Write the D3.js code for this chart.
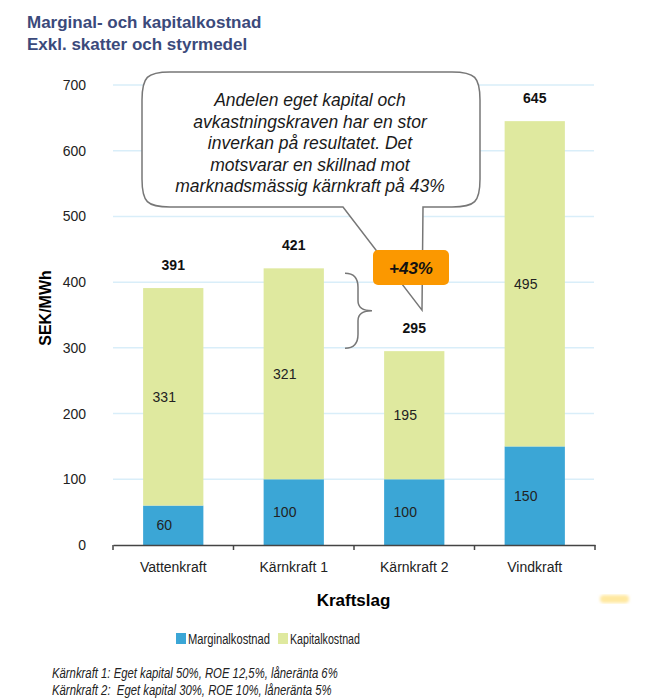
<!DOCTYPE html>
<html>
<head>
<meta charset="utf-8">
<script src="https://cdn.jsdelivr.net/npm/d3@7"></script>
<style>
  body { margin: 0; background: #fff; }
  svg { display: block; font-family: "Liberation Sans", Arial, sans-serif; }
</style>
</head>
<body>
<svg id="chart"></svg>
<script>
// data
const categories = ["Vattenkraft", "Kärnkraft 1", "Kärnkraft 2", "Vindkraft"];
const marginal = [60, 100, 100, 150];
const kapital = [331, 321, 195, 495];
const totals = [391, 421, 295, 645];
const yTicks = [0, 100, 200, 300, 400, 500, 600, 700];
const seriesNames = ["Marginalkostnad", "Kapitalkostnad"];
const bubbleLines = [
  "Andelen eget kapital och",
  "avkastningskraven har en stor",
  "inverkan på resultatet. Det",
  "motsvarar en skillnad mot",
  "marknadsmässig kärnkraft på 43%"
];
const footnotes = [
  "Kärnkraft 1: Eget kapital 50%, ROE 12,5%, låneränta 6%",
  "Kärnkraft 2:  Eget kapital 30%, ROE 10%, låneränta 5%"
];

const colors = { Marginalkostnad: "#3ba6d6", Kapitalkostnad: "#dfe99f" };

const svg = d3.select("#chart").attr("width", 659).attr("height", 700);

const margin = { top: 85, right: 65, bottom: 155, left: 113 },
      width = 659 - margin.left - margin.right,
      height = 700 - margin.top - margin.bottom;

const g = svg.append("g").attr("transform", "translate(" + margin.left + "," + margin.top + ")");

const x = d3.scaleBand().domain(categories).range([0, width + 1]).paddingInner(0.5).paddingOuter(0.25);
const y = d3.scaleLinear().domain([0, 700]).range([height, 0]);
const yAbs = v => y(v) + margin.top; // page coordinates for the annotations

// squeeze a text horizontally to look like the narrow font of the original
function narrow(sel, px, py, target) {
  sel.each(function(d, i) {
    const w = this.getComputedTextLength();
    const t = typeof target === "function" ? target(d, i) : target;
    const xx = typeof px === "function" ? px(d, i) : px;
    const yy = typeof py === "function" ? py(d, i) : py;
    d3.select(this).attr("transform", `translate(${xx},${yy}) scale(${t / w},1)`);
  });
}

// Title
svg.append("text").attr("x", 27).attr("y", 28)
  .style("font-size", "17px").style("font-weight", "bold").style("fill", "#3b4a7b")
  .text("Marginal- och kapitalkostnad");
svg.append("text").attr("x", 27).attr("y", 50)
  .style("font-size", "17px").style("font-weight", "bold").style("fill", "#3b4a7b")
  .text("Exkl. skatter och styrmedel");

// gridlines
g.append("g").selectAll("line").data(yTicks.filter(d => d > 0)).join("line")
  .attr("x1", 0).attr("x2", width)
  .attr("y1", d => y(d)).attr("y2", d => y(d))
  .attr("stroke", "#d9eef9").attr("stroke-width", 1.5);

// y tick labels
const yAxis = g.append("g")
  .call(d3.axisLeft(y).tickValues(yTicks).tickSize(0).tickPadding(27));
yAxis.select(".domain").remove();
yAxis.selectAll("text").style("font-size", "14px").style("fill", "#222")
  .style("font-family", "'Liberation Sans', Arial, sans-serif");

// y title
g.append("text")
  .attr("transform", "rotate(-90)")
  .attr("x", -y(350) + 7).attr("y", -62)
  .attr("text-anchor", "middle")
  .style("font-size", "16px").style("font-weight", "bold").style("fill", "#000")
  .text("SEK/MWh");

// stacked bars
const rows = categories.map((c, i) => ({ cat: c, Marginalkostnad: marginal[i], Kapitalkostnad: kapital[i] }));
const stacked = d3.stack().keys(seriesNames)(rows);

g.append("g").selectAll("g").data(stacked).join("g")
  .attr("fill", d => colors[d.key])
  .selectAll("rect").data(d => d).join("rect")
    .attr("x", d => x(d.data.cat))
    .attr("width", x.bandwidth())
    .attr("y", d => y(d[1]))
    .attr("height", d => y(d[0]) - y(d[1]));

// segment labels
stacked.forEach(s => {
  g.append("g").selectAll("text").data(s).join("text")
    .attr("x", d => x(d.data.cat) + x.bandwidth() / 2 - 9)
    .attr("y", d => y((d[0] + d[1]) / 2) + 5)
    .attr("text-anchor", "middle")
    .style("font-size", "14px").style("fill", "#222")
    .text(d => d[1] - d[0]);
});

// total labels
g.append("g").selectAll("text").data(categories).join("text")
  .attr("x", d => x(d) + x.bandwidth() / 2)
  .attr("y", (d, i) => y(totals[i]) - 18)
  .attr("text-anchor", "middle")
  .style("font-size", "14px").style("font-weight", "bold").style("fill", "#111")
  .text((d, i) => totals[i]);

// x axis
const xAxis = g.append("g").attr("transform", "translate(0," + height + ")")
  .call(d3.axisBottom(x).tickSize(0).tickPadding(17));
xAxis.select(".domain").attr("stroke", "#444").attr("stroke-width", 1.5);
xAxis.selectAll("text").style("font-size", "14px").style("fill", "#222")
  .style("font-family", "'Liberation Sans', Arial, sans-serif");
const step = x.step();
g.append("g").selectAll("line").data(d3.range(categories.length + 1)).join("line")
  .attr("x1", d => d * step).attr("x2", d => d * step)
  .attr("y1", height).attr("y2", height + 5)
  .attr("stroke", "#444").attr("stroke-width", 1.5);

g.append("text")
  .attr("x", width / 2).attr("y", height + 61)
  .attr("text-anchor", "middle")
  .style("font-size", "17px").style("font-weight", "bold").style("fill", "#000")
  .text("Kraftslag");

// callout bubble
const bx0 = 142, by0 = 72, bx1 = 480, by1 = 207, r = 28;
const tipX = 422, tipY = yAbs(295) - 41, tailL = 343, tailR = 423;
const bubble = d3.path();
bubble.moveTo(bx0 + r, by0);
bubble.lineTo(bx1 - r, by0);
bubble.bezierCurveTo(bx1 - 5, by0, bx1, by0 + 5, bx1, by0 + r);
bubble.lineTo(bx1, by1 - r);
bubble.bezierCurveTo(bx1, by1 - 5, bx1 - 5, by1, bx1 - r, by1);
bubble.lineTo(tailR, by1);
bubble.lineTo(tipX, tipY);
bubble.lineTo(tailL, by1);
bubble.lineTo(bx0 + r, by1);
bubble.bezierCurveTo(bx0 + 5, by1, bx0, by1 - 5, bx0, by1 - r);
bubble.lineTo(bx0, by0 + r);
bubble.bezierCurveTo(bx0, by0 + 5, bx0 + 5, by0, bx0 + r, by0);
bubble.closePath();
svg.append("path").attr("d", bubble.toString())
  .attr("fill", "#fff").attr("stroke", "#777").attr("stroke-width", 1.5);

svg.append("g").selectAll("text").data(bubbleLines).join("text")
  .attr("x", 310).attr("y", (d, i) => 106 + i * 21.6)
  .attr("text-anchor", "middle")
  .style("font-size", "17.5px").style("font-style", "italic").style("fill", "#1a1a1a")
  .text(d => d);

// brace between Kärnkraft 1 and 2
const bTop = yAbs(421) + 5, bBot = yAbs(295) - 3, bMid = (bTop + bBot) / 2, bx = 345;
svg.append("path")
  .attr("d", `M${bx},${bTop} Q${bx + 13},${bTop} ${bx + 13},${bTop + 14} V${bMid - 10} Q${bx + 13},${bMid} ${bx + 27},${bMid} ` +
             `Q${bx + 13},${bMid} ${bx + 13},${bMid + 10} V${bBot - 14} Q${bx + 13},${bBot} ${bx},${bBot}`)
  .attr("fill", "none").attr("stroke", "#777").attr("stroke-width", 1.5);

// +43% box
svg.append("rect").attr("x", 373).attr("y", 250).attr("width", 76).attr("height", 35)
  .attr("rx", 5).attr("fill", "#fb9800");
svg.append("text").attr("x", 411).attr("y", 274)
  .attr("text-anchor", "middle")
  .style("font-size", "17px").style("font-weight", "bold").style("font-style", "italic").style("fill", "#111")
  .text("+43%");

// faint yellow smudge
const defs = svg.append("defs");
defs.append("filter").attr("id", "blur").append("feGaussianBlur").attr("stdDeviation", 1.5);
svg.append("rect").attr("x", 600).attr("y", 595).attr("width", 29).attr("height", 8).attr("rx", 4)
  .attr("fill", "#ffe8a0").attr("filter", "url(#blur)");

// legend
const legendX = [176, 278];
const legendW = [82, 70];
svg.append("g").selectAll("rect").data(seriesNames).join("rect")
  .attr("x", (d, i) => legendX[i]).attr("y", 633).attr("width", 10).attr("height", 11)
  .attr("fill", d => colors[d]);
svg.append("g").selectAll("text").data(seriesNames).join("text")
  .style("font-size", "15px").style("fill", "#222")
  .text(d => d)
  .call(narrow, (d, i) => legendX[i] + 12, 644, (d, i) => legendW[i]);

// footnotes
const footW = [286, 280];
svg.append("g").selectAll("text").data(footnotes).join("text")
  .style("font-size", "14.5px").style("font-style", "italic")
  .style("fill", "#222").style("white-space", "pre")
  .text(d => d)
  .call(narrow, 52, (d, i) => 678 + i * 17, (d, i) => footW[i]);
</script>
</body>
</html>
